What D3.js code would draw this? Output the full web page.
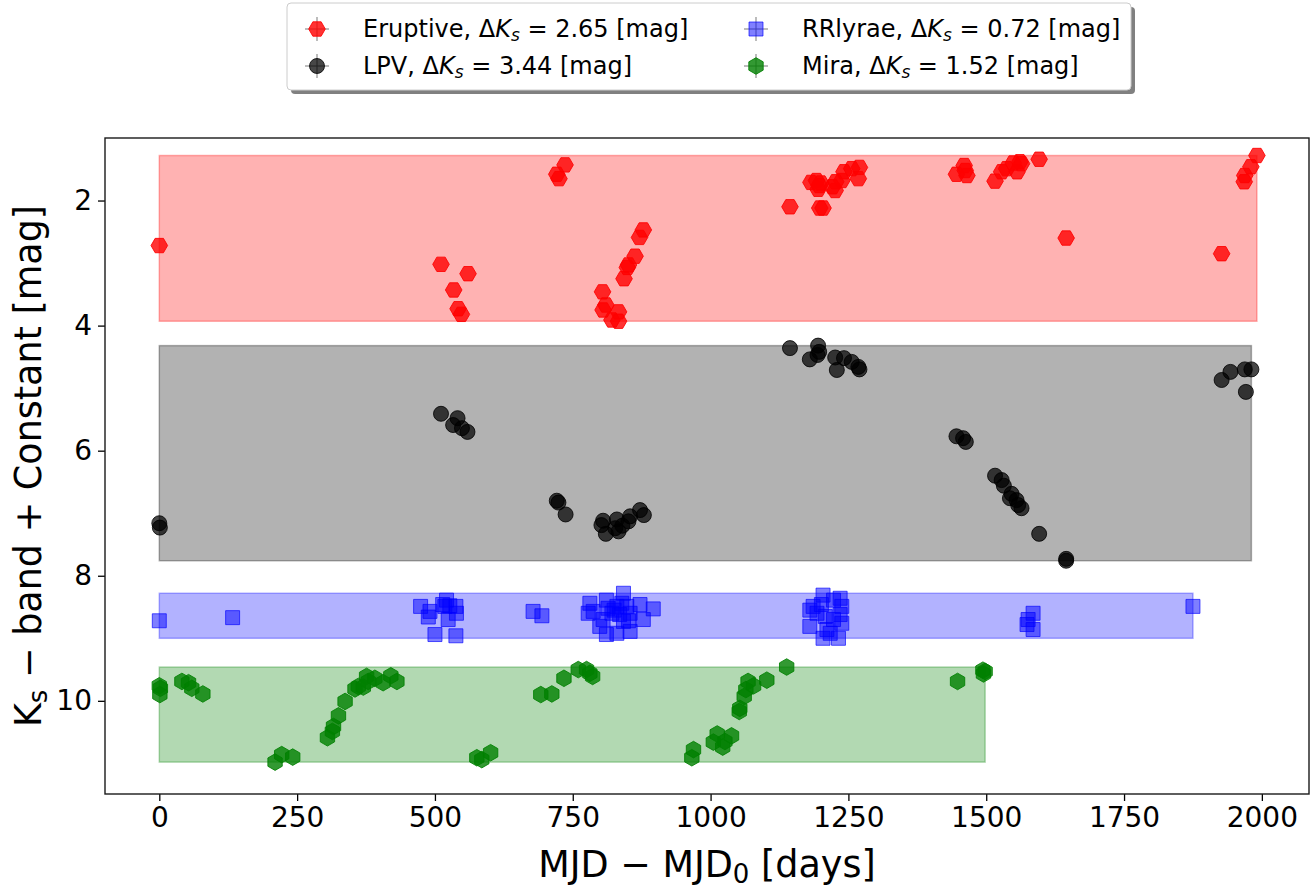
<!DOCTYPE html>
<html><head><meta charset="utf-8">
<script src="https://cdn.jsdelivr.net/npm/d3@7"></script>
<style>body{margin:0;background:#fff} text{font-family:"DejaVu Sans",sans-serif}</style>
</head><body><svg id="chart" width="1313" height="890"></svg>
<script>
const seriesNames = ["Eruptive", "LPV", "RRlyrae", "Mira"];
const deltaLabels = ["2.65", "3.44", "0.72", "1.52"];
const xTicks = [0, 250, 500, 750, 1000, 1250, 1500, 1750, 2000];
const yTicks = [2, 4, 6, 8, 10];

const eruptiveX = [0,511,560,534,542,548,736,721,725,878,871,863,851,849,843,804,810,805,833,821,833,1144,1198,1204,1192,1182,1195,1197,1200,1227,1226,1221,1238,1242,1256,1270,1268,1460,1446,1465,1462,1516,1528,1537,1549,1561,1556,1564,1596,1645,1927,1991,1980,1969,1968];
const eruptiveY = [2.72,3.02,3.17,3.43,3.73,3.82,1.43,1.58,1.65,2.47,2.59,2.89,3.03,3.07,3.25,3.46,3.67,3.75,3.78,3.91,3.93,2.10,2.12,2.12,1.68,1.71,1.82,1.76,1.72,1.70,1.84,1.78,1.68,1.54,1.49,1.47,1.65,1.44,1.58,1.60,1.52,1.69,1.54,1.49,1.40,1.38,1.54,1.41,1.34,2.60,2.85,1.28,1.46,1.60,1.70];

const lpvX = [0,1,511,541,533,549,559,721,724,737,805,802,810,830,833,827,840,851,854,872,879,1144,1195,1197,1194,1180,1226,1229,1242,1256,1268,1270,1446,1458,1463,1516,1528,1532,1546,1543,1555,1558,1564,1596,1645,1645,1927,1943,1969,1981,1971];
const lpvY = [7.16,7.23,5.41,5.48,5.59,5.64,5.70,6.80,6.83,7.02,7.12,7.19,7.33,7.10,7.29,7.24,7.20,7.13,7.05,6.95,7.03,4.36,4.32,4.42,4.47,4.54,4.51,4.71,4.52,4.58,4.66,4.70,5.77,5.80,5.86,6.40,6.47,6.56,6.69,6.76,6.79,6.87,6.92,7.33,7.73,7.76,4.87,4.74,4.70,4.70,5.06];

const rrlX = [0,133,474,491,488,500,521,518,527,538,539,524,538,514,678,694,781,778,787,811,814,821,842,839,830,848,854,851,872,878,896,811,830,854,799,805,842,825,835,1180,1180,1204,1201,1193,1208,1223,1235,1238,1235,1238,1223,1211,1204,1232,1217,1186,1585,1576,1574,1585,1875];
const rrlY = [8.72,8.67,8.49,8.57,8.66,8.94,8.39,8.49,8.48,8.49,8.60,8.70,8.96,8.46,8.57,8.64,8.44,8.60,8.57,8.39,8.52,8.60,8.28,8.44,8.49,8.49,8.60,8.72,8.46,8.70,8.53,8.94,8.92,8.89,8.81,8.70,8.73,8.55,8.62,8.55,8.81,8.31,8.46,8.60,8.65,8.39,8.36,8.49,8.62,8.76,8.70,8.86,9.00,9.00,8.92,8.49,8.60,8.70,8.78,8.86,8.49];

const miraX = [0,2,1,41,53,59,79,210,222,242,305,314,316,325,337,355,361,370,376,379,391,406,420,431,576,585,601,692,712,734,760,775,781,786,966,969,1005,1012,1022,1026,1038,1052,1053,1061,1064,1068,1078,1102,1138,1448,1494,1495,1498];
const miraY = [9.76,9.80,9.90,9.69,9.71,9.80,9.89,10.98,10.86,10.90,10.59,10.49,10.41,10.24,10.01,9.81,9.77,9.78,9.61,9.69,9.64,9.71,9.60,9.69,10.91,10.94,10.83,9.90,9.89,9.64,9.50,9.50,9.56,9.61,10.91,10.78,10.66,10.53,10.74,10.65,10.56,10.17,10.12,9.93,9.82,9.69,9.76,9.67,9.46,9.69,9.51,9.57,9.53];

const seriesColors = ["#ff0000", "#000000", "#0000ff", "#008000"];
const seriesMarkers = ["hexH", "circle", "square", "hexh"];
const seriesXs = [eruptiveX, lpvX, rrlX, miraX];
const seriesYs = [eruptiveY, lpvY, rrlY, miraY];

const svg = d3.select("#chart");
const L = 105, R = 1309, T = 138, B = 794;
const x = d3.scaleLinear().domain([-98.5, 2085.5]).range([L, R]);
const y = d3.scaleLinear().domain([1.0, 11.49]).range([T, B]);

function markerPath(kind) {
  if (kind === "circle") return d3.symbol().type(d3.symbolCircle).size(Math.PI * 7.5 * 7.5)();
  if (kind === "square") return d3.symbol().type(d3.symbolSquare).size(14 * 14)();
  const r = 8.3, off = kind === "hexH" ? 0 : Math.PI / 2;
  const pts = d3.range(6).map(i => [r * Math.cos(off + i * Math.PI / 3), r * Math.sin(off + i * Math.PI / 3)]);
  return "M" + pts.map(p => p.join(",")).join("L") + "Z";
}
const markerStyle = [
  {fo: 0.8, so: 0.85},
  {fo: 0.72, so: 0.8},
  {fo: 0.5, so: 0.65},
  {fo: 0.8, so: 0.85}
];

// bands (fill between min and max over the x range of each series)
seriesNames.forEach((n, i) => {
  const xe = d3.extent(seriesXs[i]), ye = d3.extent(seriesYs[i]);
  svg.append("rect")
    .attr("x", x(xe[0])).attr("y", y(ye[0]))
    .attr("width", x(xe[1]) - x(xe[0])).attr("height", y(ye[1]) - y(ye[0]))
    .attr("fill", seriesColors[i]).attr("fill-opacity", 0.3)
    .attr("stroke", seriesColors[i]).attr("stroke-opacity", 0.3).attr("stroke-width", 1.5);
});

// points
seriesNames.forEach((n, i) => {
  const pts = seriesXs[i].map((v, j) => [v, seriesYs[i][j]]);
  svg.append("g").selectAll("path").data(pts).join("path")
    .attr("d", markerPath(seriesMarkers[i]))
    .attr("transform", d => `translate(${x(d[0])},${y(d[1])})`)
    .attr("fill", seriesColors[i]).attr("fill-opacity", markerStyle[i].fo)
    .attr("stroke", seriesColors[i]).attr("stroke-opacity", markerStyle[i].so).attr("stroke-width", 1);
});

// axes
const xAxis = svg.append("g").attr("transform", `translate(0,${B})`)
  .call(d3.axisBottom(x).tickValues(xTicks).tickSize(7).tickPadding(6).tickFormat(d3.format("d")));
const yAxis = svg.append("g").attr("transform", `translate(${L},0)`)
  .call(d3.axisLeft(y).tickValues(yTicks).tickSize(7).tickPadding(6).tickFormat(d3.format("d")));
[xAxis, yAxis].forEach(a => {
  a.select(".domain").remove();
  a.selectAll(".tick line").attr("stroke", "#000").attr("stroke-width", 1.3);
  a.selectAll(".tick text").attr("font-size", 28).attr("fill", "#000").attr("font-family", "DejaVu Sans");
});
svg.append("rect").attr("x", L).attr("y", T).attr("width", R - L).attr("height", B - T)
  .attr("fill", "none").attr("stroke", "#1a1a1a").attr("stroke-width", 1.4);

// axis labels
const xl = svg.append("text").attr("x", (L + R) / 2).attr("y", 877).attr("text-anchor", "middle").attr("font-size", 36.5);
xl.append("tspan").text("MJD \u2212 MJD");
xl.append("tspan").attr("font-size", 26).attr("dy", 6).text("0");
xl.append("tspan").attr("dy", -6).text(" [days]");

const yl = svg.append("text").attr("transform", `translate(41,${(T + B) / 2}) rotate(-90)`).attr("text-anchor", "middle").attr("font-size", 36.5);
yl.append("tspan").text("K");
yl.append("tspan").attr("font-size", 26).attr("dy", 6).text("s");
yl.append("tspan").attr("dy", -6).text(" \u2212 band + Constant [mag]");

// legend
const lg = svg.append("g");
lg.append("rect").attr("x", 291).attr("y", 7).attr("width", 844).attr("height", 87).attr("rx", 4).attr("fill", "#808080");
lg.append("rect").attr("x", 287).attr("y", 3).attr("width", 844).attr("height", 87).attr("rx", 4).attr("fill", "#fff").attr("stroke", "#cccccc").attr("stroke-width", 1);
const colX = [317, 756], rowY = [29, 66];
seriesNames.forEach((n, i) => {
  const cx = colX[Math.floor(i / 2)], cy = rowY[i % 2];
  lg.append("line").attr("x1", cx - 12).attr("x2", cx + 12).attr("y1", cy).attr("y2", cy).attr("stroke", "#808080").attr("stroke-opacity", 0.7).attr("stroke-width", 1.5);
  lg.append("line").attr("x1", cx).attr("x2", cx).attr("y1", cy - 12).attr("y2", cy + 12).attr("stroke", "#808080").attr("stroke-opacity", 0.7).attr("stroke-width", 1.5);
  lg.append("path").attr("d", markerPath(seriesMarkers[i])).attr("transform", `translate(${cx},${cy})`)
    .attr("fill", seriesColors[i]).attr("fill-opacity", markerStyle[i].fo)
    .attr("stroke", seriesColors[i]).attr("stroke-opacity", markerStyle[i].so);
  const t = lg.append("text").attr("x", cx + 46).attr("y", cy + 8).attr("font-size", 24);
  t.append("tspan").text(n + ", \u0394");
  t.append("tspan").attr("font-style", "italic").text("K");
  t.append("tspan").attr("font-style", "italic").attr("font-size", 17).attr("dy", 4).text("s");
  t.append("tspan").attr("dy", -4).text(" = " + deltaLabels[i] + " [mag]");
});
</script></body></html>
